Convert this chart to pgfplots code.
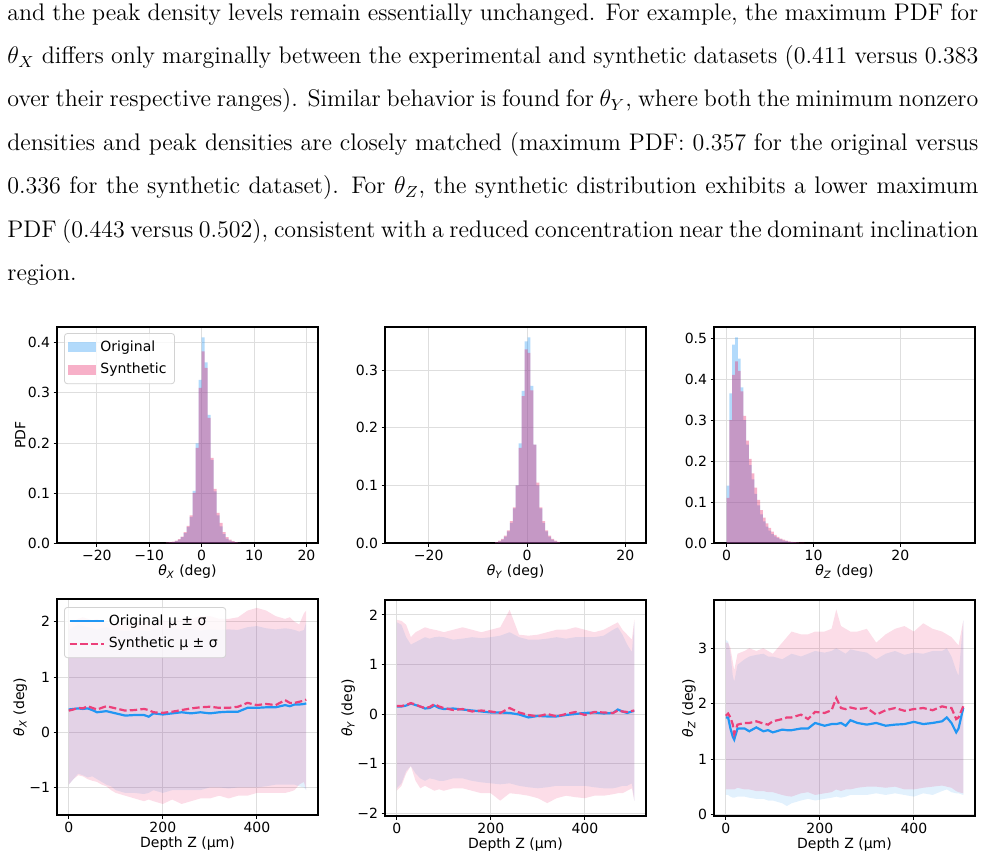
\documentclass[border=0pt]{standalone}
\usepackage{fontspec}
\usepackage{pgfplots}
\usepackage{pgfplotstable}
\pgfplotsset{compat=1.18}
\newfontfamily\dejavu{DejaVu Sans}[ItalicFont={DejaVu Sans Oblique}]
\definecolor{cblue}{HTML}{2196F3}
\definecolor{cpink}{HTML}{E91E63}
\definecolor{cpinkL}{HTML}{EC407A}
\definecolor{gridc}{RGB}{222,222,222}
\definecolor{legc}{RGB}{210,210,210}

\pgfplotstableread{
x    om    ou    ol     sm    su    sl
0    0.41  1.85 -0.95   0.39  1.95 -0.95
10   0.42  1.90 -0.85   0.41  2.00 -0.85
20   0.43  1.95 -0.75   0.44  2.05 -0.78
30   0.42  1.92 -0.78   0.43  2.08 -0.80
40   0.43  1.90 -0.82   0.47  2.05 -0.85
50   0.40  1.88 -0.80   0.44  2.02 -0.88
60   0.36  1.86 -0.85   0.41  2.05 -0.90
70   0.37  1.88 -0.90   0.44  2.00 -0.95
80   0.38  1.90 -0.95   0.47  1.98 -0.98
90   0.36  1.87 -0.98   0.45  1.95 -1.05
100  0.34  1.85 -1.05   0.43  1.96 -1.10
120  0.30  1.83 -1.10   0.39  1.98 -1.15
140  0.31  1.85 -1.10   0.40  1.99 -1.20
160  0.31  1.84 -1.12   0.42  2.02 -1.25
170  0.28  1.83 -1.10   0.40  2.00 -1.22
180  0.34  1.86 -1.05   0.36  2.00 -1.25
200  0.32  1.85 -1.10   0.35  2.03 -1.30
220  0.34  1.88 -1.05   0.37  2.00 -1.22
240  0.36  1.85 -1.05   0.40  2.05 -1.30
260  0.34  1.87 -1.05   0.43  2.05 -1.25
280  0.36  1.84 -1.05   0.45  2.10 -1.20
300  0.34  1.86 -1.00   0.46  2.10 -1.20
320  0.36  1.85 -1.00   0.44  2.05 -1.15
340  0.37  1.86 -1.02   0.44  2.05 -1.20
360  0.37  1.85 -1.00   0.46  2.08 -1.15
380  0.44  1.90 -1.00   0.53  2.20 -1.15
400  0.44  1.92 -1.00   0.49  2.25 -1.10
420  0.45  1.88 -0.98   0.51  2.20 -1.10
440  0.45  1.86 -0.95   0.49  2.10 -1.10
460  0.49  1.88 -0.95   0.58  2.05 -1.10
470  0.47  1.87 -0.95   0.53  2.08 -1.08
480  0.50  1.85 -0.95   0.53  2.00 -1.05
490  0.50  1.82 -0.98   0.55  1.95 -0.95
500  0.51  1.85 -1.00   0.57  2.15 -0.90
505  0.52  2.00 -1.05   0.59  2.20 -1.05
}\tabX

\pgfplotstableread{
x    om    ou    ol     sm    su    sl
0    0.15  1.85 -1.50   0.16  1.90 -1.55
10   0.15  1.80 -1.40   0.16  1.88 -1.45
20   0.17  1.55 -1.15   0.18  1.80 -1.20
30   0.21  1.40 -1.05   0.22  1.55 -1.05
40   0.18  1.45 -1.20   0.19  1.65 -1.35
50   0.15  1.50 -1.30   0.15  1.70 -1.50
60   0.11  1.55 -1.35   0.12  1.75 -1.45
70   0.12  1.52 -1.30   0.14  1.72 -1.50
80   0.17  1.55 -1.32   0.20  1.70 -1.55
90   0.12  1.56 -1.35   0.15  1.68 -1.52
100  0.10  1.55 -1.35   0.12  1.65 -1.55
120  0.11  1.50 -1.30   0.08  1.70 -1.50
140  0.09  1.52 -1.30   0.10  1.75 -1.50
160  0.07  1.55 -1.35   0.05  1.70 -1.55
180  0.05  1.53 -1.38   0.07  1.65 -1.60
200  0.03  1.55 -1.40   0.05  1.70 -1.60
220  0.03  1.58 -1.42   0.02  1.75 -1.75
240  0.02  1.65 -1.40   0.12  2.10 -1.60
260  -0.01 1.55 -1.45   0.03  1.60 -1.62
280  -0.07 1.50 -1.48   -0.02 1.58 -1.65
300  -0.04 1.50 -1.50   -0.05 1.60 -1.70
320  -0.05 1.52 -1.48   0.00  1.65 -1.80
340  -0.05 1.55 -1.45   -0.05 1.70 -1.70
360  -0.02 1.52 -1.45   0.00  1.70 -1.65
380  0.00  1.55 -1.45   0.04  1.75 -1.68
400  0.02  1.55 -1.45   -0.02 1.70 -1.70
420  0.03  1.55 -1.48   0.04  1.65 -1.65
440  0.01  1.58 -1.50   0.03  1.70 -1.65
460  0.02  1.70 -1.50   0.02  1.80 -1.62
470  0.09  1.75 -1.48   0.07  1.85 -1.60
480  0.05  1.60 -1.45   0.05  1.70 -1.60
490  0.02  1.40 -1.45   0.04  1.60 -1.55
500  0.05  1.25 -1.40   0.06  1.50 -1.50
505  0.06  1.85 -1.75   0.07  1.90 -1.75
}\tabY

\pgfplotstableread{
x    om    ou    ol     sm    su    sl
0    1.75  3.15  0.35   1.78  3.10  0.45
5    1.75  3.12  0.35   1.82  3.10  0.45
10   1.55  2.90  0.32   1.75  3.00  0.45
15   1.40  2.50  0.30   1.62  2.75  0.45
18   1.35  2.40  0.30   1.45  2.60  0.45
25   1.55  2.70  0.32   1.62  2.90  0.48
40   1.55  2.80  0.32   1.65  2.95  0.45
50   1.50  2.85  0.30   1.65  3.00  0.45
65   1.57  2.88  0.28   1.68  2.95  0.42
80   1.50  2.90  0.28   1.64  3.00  0.42
90   1.52  2.85  0.25   1.62  2.95  0.40
100  1.48  2.85  0.25   1.68  2.90  0.40
120  1.53  2.80  0.20   1.72  3.10  0.35
130  1.52  2.85  0.15   1.75  3.20  0.33
140  1.52  2.90  0.20   1.75  3.30  0.32
160  1.55  2.85  0.25   1.80  3.25  0.38
175  1.55  2.90  0.28   1.72  3.25  0.40
190  1.65  2.95  0.25   1.85  3.30  0.35
210  1.60  2.92  0.28   1.83  3.30  0.38
225  1.63  2.95  0.30   1.88  3.35  0.40
235  1.63  3.00  0.32   2.10  3.70  0.45
245  1.65  2.95  0.30   1.92  3.40  0.42
255  1.60  2.90  0.32   1.90  3.35  0.45
265  1.70  2.98  0.35   1.93  3.30  0.45
280  1.65  2.95  0.35   1.90  3.30  0.48
300  1.62  2.92  0.35   1.92  3.35  0.50
320  1.65  2.80  0.38   1.80  3.10  0.50
340  1.60  2.90  0.35   1.88  3.25  0.48
360  1.62  2.95  0.38   1.92  3.35  0.50
380  1.63  2.88  0.35   1.87  3.40  0.45
400  1.67  2.92  0.32   1.90  3.30  0.45
420  1.63  2.90  0.38   1.92  3.45  0.48
440  1.65  2.95  0.35   1.88  3.35  0.50
460  1.68  2.95  0.42   1.95  3.30  0.52
470  1.75  3.00  0.45   1.93  3.25  0.50
480  1.65  2.85  0.40   1.92  3.20  0.48
490  1.48  2.60  0.38   1.72  3.10  0.42
495  1.55  2.50  0.38   1.75  3.05  0.40
505  1.92  3.50  0.35   1.95  3.50  0.38
}\tabZ

\pgfplotsset{
  base/.style={
    scale only axis, width=130.5pt, height=108pt,
    axis line style={line width=0.6pt, black},
    grid=major, grid style={line width=0.4pt, gridc},
    tick align=outside, major tick length=1.75pt,
    tick style={black, line width=0.4pt},
    tick pos=left,
    font=\dejavu\fontsize{7}{8.4}\selectfont,
    tick label style={font=\dejavu\fontsize{7}{8.4}\selectfont},
    label style={font=\dejavu\fontsize{7}{8.4}\selectfont},
    /pgf/number format/assume math mode=true,
    xticklabel style={inner sep=1pt, yshift=-0.5pt},
    yticklabel style={inner sep=1pt, xshift=-0.5pt},
    xlabel style={inner sep=1pt, yshift=0pt},
    ylabel style={inner sep=1pt, yshift=-1pt},
    legend cell align=left,
    legend style={draw=legc, rounded corners=1.5pt, fill=white, fill opacity=0.8, text opacity=1,
      font=\dejavu\fontsize{7}{8.4}\selectfont, inner xsep=2pt, inner ysep=1.5pt, row sep=0.5pt},
  },
  hist/.style={base, ymin=0},
  prof/.style={base, xmin=-25, xmax=530, xtick={0,200,400}, xlabel={Depth Z (µm)}},
  bandlo/.style={draw=none, stack plots=y, forget plot},
  bandB/.style={draw=none, fill=cblue, fill opacity=0.13, stack plots=y, forget plot},
  bandP/.style={draw=none, fill=cpink, fill opacity=0.15, stack plots=y, forget plot},
}

\begin{document}
\begin{tikzpicture}
\useasboundingbox (0,0) rectangle (493pt,-429.5pt);
\node[anchor=north west, inner sep=0pt, text width=485.5pt, align=justify,
  font=\fontsize{12}{21.67}\selectfont] at (3.5pt,-1.5pt) {\noindent
and the peak density levels remain essentially unchanged. For example, the maximum PDF for\linebreak
$\theta_X$ differs only marginally between the experimental and synthetic datasets (0.411 versus 0.383\linebreak
over their respective ranges). Similar behavior is found for $\theta_Y$, where both the minimum nonzero\linebreak
densities and peak densities are closely matched (maximum PDF: 0.357 for the original versus\linebreak
0.336 for the synthetic dataset). For $\theta_Z$, the synthetic distribution exhibits a lower maximum\linebreak
PDF (0.443 versus 0.502), consistent with a reduced concentration near the dominant inclination\linebreak
region.};

% ---------- Panel 1 ----------
\begin{axis}[hist, at={(28.5pt,-163.5pt)}, anchor=north west,
  xmin=-27.6, xmax=22.2, ymax=0.4316,
  xtick={-20,-10,0,10,20}, xticklabels={−20,−10,0,10,20},
  ytick={0,0.1,0.2,0.3,0.4}, yticklabels={0.0,0.1,0.2,0.3,0.4},
  xlabel={{\itshape θ\textsubscript{X}} (deg)}, ylabel={PDF},
  legend style={at={(0.027,0.972)}, anchor=north west}]
\addlegendimage{legend image code/.code={\fill[draw=none, sharp corners, cblue, fill opacity=0.35] (0pt,-2.6pt) rectangle (14pt,2.6pt);}}
\addlegendentry{Original}
\addlegendimage{legend image code/.code={\fill[draw=none, sharp corners, cpink, fill opacity=0.35] (0pt,-2.6pt) rectangle (14pt,2.6pt);}}
\addlegendentry{Synthetic}
\addplot[ybar interval, fill=cblue, fill opacity=0.35, draw=none, forget plot] coordinates {
(-6.84,0.001) (-6.27,0.0015) (-5.70,0.002) (-5.13,0.004) (-4.56,0.007) (-3.99,0.012)
(-3.42,0.02) (-2.85,0.032) (-2.28,0.052) (-1.71,0.104) (-1.14,0.199) (-0.57,0.326)
(0.00,0.411) (0.57,0.361) (1.14,0.256) (1.71,0.166) (2.28,0.103) (2.85,0.055)
(3.42,0.033) (3.99,0.018) (4.56,0.009) (5.13,0.005) (5.70,0.003) (6.27,0.0015)
(6.84,0.001) (7.41,0.001)};
\addplot[ybar interval, fill=cpink, fill opacity=0.35, draw=none, forget plot] coordinates {
(-6.84,0.0015) (-6.27,0.002) (-5.70,0.003) (-5.13,0.005) (-4.56,0.008) (-3.99,0.013)
(-3.42,0.022) (-2.85,0.034) (-2.28,0.055) (-1.71,0.10) (-1.14,0.19) (-0.57,0.31)
(0.00,0.383) (0.57,0.35) (1.14,0.25) (1.71,0.17) (2.28,0.108) (2.85,0.06)
(3.42,0.04) (3.99,0.022) (4.56,0.012) (5.13,0.007) (5.70,0.004) (6.27,0.002)
(6.84,0.001) (7.41,0.001)};
\end{axis}

% ---------- Panel 2 ----------
\begin{axis}[hist, at={(192.5pt,-163.5pt)}, anchor=north west,
  xmin=-28.9, xmax=24.2, ymax=0.375,
  xtick={-20,0,20}, xticklabels={−20,0,20},
  ytick={0,0.1,0.2,0.3}, yticklabels={0.0,0.1,0.2,0.3},
  xlabel={{\itshape θ\textsubscript{Y}} (deg)}]
\addplot[ybar interval, fill=cblue, fill opacity=0.35, draw=none] coordinates {
(-6.5,0.001) (-5.9,0.003) (-5.3,0.006) (-4.7,0.011) (-4.1,0.02) (-3.5,0.035)
(-2.9,0.06) (-2.3,0.10) (-1.7,0.173) (-1.1,0.264) (-0.5,0.35) (0.1,0.357)
(0.7,0.273) (1.3,0.171) (1.9,0.10) (2.5,0.06) (3.1,0.035) (3.7,0.02)
(4.3,0.011) (4.9,0.006) (5.5,0.003) (6.1,0.001) (6.7,0.001)};
\addplot[ybar interval, fill=cpink, fill opacity=0.35, draw=none] coordinates {
(-6.5,0.0015) (-5.9,0.004) (-5.3,0.007) (-4.7,0.013) (-4.1,0.022) (-3.5,0.038)
(-2.9,0.062) (-2.3,0.10) (-1.7,0.165) (-1.1,0.255) (-0.5,0.336) (0.1,0.33)
(0.7,0.265) (1.3,0.171) (1.9,0.105) (2.5,0.062) (3.1,0.038) (3.7,0.022)
(4.3,0.013) (4.9,0.007) (5.5,0.004) (6.1,0.002) (6.7,0.002)};
\end{axis}

% ---------- Panel 3 ----------
\begin{axis}[hist, at={(357pt,-163.5pt)}, anchor=north west,
  xmin=-1.46, xmax=28.6, ymax=0.527,
  xtick={0,10,20},
  ytick={0,0.1,0.2,0.3,0.4,0.5}, yticklabels={0.0,0.1,0.2,0.3,0.4,0.5},
  xlabel={{\itshape θ\textsubscript{Z}} (deg)}]
\addplot[ybar interval, fill=cblue, fill opacity=0.35, draw=none] coordinates {
(0.00,0.14) (0.32,0.365) (0.64,0.484) (0.96,0.502) (1.28,0.45) (1.60,0.38)
(1.92,0.30) (2.24,0.24) (2.56,0.19) (2.88,0.155) (3.20,0.12) (3.52,0.092)
(3.84,0.07) (4.16,0.053) (4.48,0.04) (4.80,0.03) (5.12,0.022) (5.44,0.016)
(5.76,0.012) (6.08,0.009) (6.40,0.006) (6.72,0.0045) (7.04,0.003) (7.36,0.002)
(7.68,0.0015) (8.00,0.001) (8.32,0.001)};
\addplot[ybar interval, fill=cpink, fill opacity=0.35, draw=none] coordinates {
(0.00,0.11) (0.32,0.30) (0.64,0.41) (0.96,0.443) (1.28,0.42) (1.60,0.37)
(1.92,0.31) (2.24,0.25) (2.56,0.205) (2.88,0.17) (3.20,0.135) (3.52,0.105)
(3.84,0.08) (4.16,0.062) (4.48,0.048) (4.80,0.037) (5.12,0.028) (5.44,0.02)
(5.76,0.015) (6.08,0.011) (6.40,0.008) (6.72,0.006) (7.04,0.004) (7.36,0.003)
(7.68,0.002) (8.00,0.0015) (8.32,0.001) (8.64,0.0007) (8.96,0.0007)};
\end{axis}

% ---------- Panel 4 ----------
\begin{axis}[prof, at={(28.5pt,-299.5pt)}, anchor=north west,
  ymin=-1.50, ymax=2.41, ytick={-1,0,1,2}, yticklabels={−1,0,1,2},
  ylabel={{\itshape θ\textsubscript{X}} (deg)},
  legend style={at={(0.027,0.963)}, anchor=north west}]
\addplot[bandlo] table[x=x,y=ol]{\tabX};
\addplot[bandB] table[x=x,y expr=\thisrow{ou}-\thisrow{ol}]{\tabX} \closedcycle;
\addplot[bandlo] table[x=x,y expr=\thisrow{sl}-\thisrow{ou}]{\tabX};
\addplot[bandP] table[x=x,y expr=\thisrow{su}-\thisrow{sl}]{\tabX} \closedcycle;
\addplot[cblue, line width=1.1pt, stack plots=false] table[x=x,y=om]{\tabX};
\addlegendentry{Original μ ± σ}
\addplot[cpinkL, line width=1.1pt, dash pattern=on 3.7pt off 1.6pt, stack plots=false] table[x=x,y=sm]{\tabX};
\addlegendentry{Synthetic μ ± σ}
\end{axis}

% ---------- Panel 5 ----------
\begin{axis}[prof, at={(192.5pt,-300pt)}, anchor=north west,
  ymin=-2.06, ymax=2.30, ytick={-2,-1,0,1,2}, yticklabels={−2,−1,0,1,2},
  ylabel={{\itshape θ\textsubscript{Y}} (deg)}]
\addplot[bandlo] table[x=x,y=ol]{\tabY};
\addplot[bandB] table[x=x,y expr=\thisrow{ou}-\thisrow{ol}]{\tabY} \closedcycle;
\addplot[bandlo] table[x=x,y expr=\thisrow{sl}-\thisrow{ou}]{\tabY};
\addplot[bandP] table[x=x,y expr=\thisrow{su}-\thisrow{sl}]{\tabY} \closedcycle;
\addplot[cblue, line width=1.1pt, stack plots=false] table[x=x,y=om]{\tabY};
\addplot[cpinkL, line width=1.1pt, dash pattern=on 3.7pt off 1.6pt, stack plots=false] table[x=x,y=sm]{\tabY};
\end{axis}

% ---------- Panel 6 ----------
\begin{axis}[prof, at={(357pt,-300pt)}, anchor=north west,
  ymin=-0.03, ymax=3.87, ytick={0,1,2,3},
  ylabel={{\itshape θ\textsubscript{Z}} (deg)}]
\addplot[bandlo] table[x=x,y=ol]{\tabZ};
\addplot[bandB] table[x=x,y expr=\thisrow{ou}-\thisrow{ol}]{\tabZ} \closedcycle;
\addplot[bandlo] table[x=x,y expr=\thisrow{sl}-\thisrow{ou}]{\tabZ};
\addplot[bandP] table[x=x,y expr=\thisrow{su}-\thisrow{sl}]{\tabZ} \closedcycle;
\addplot[cblue, line width=1.1pt, stack plots=false] table[x=x,y=om]{\tabZ};
\addplot[cpinkL, line width=1.1pt, dash pattern=on 3.7pt off 1.6pt, stack plots=false] table[x=x,y=sm]{\tabZ};
\end{axis}
\end{tikzpicture}
\end{document}
